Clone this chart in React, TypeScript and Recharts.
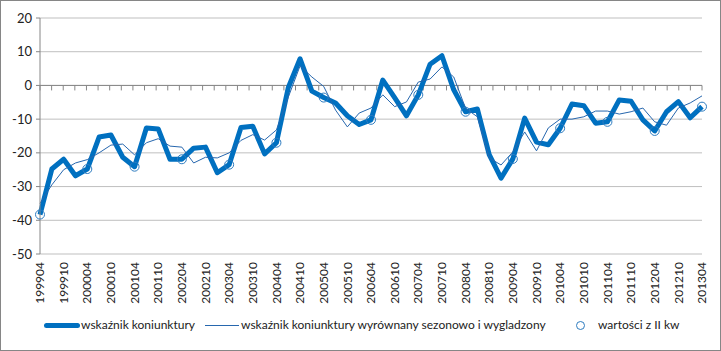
import { LineChart, Line, XAxis, YAxis, CartesianGrid, ReferenceLine } from 'recharts'

const categories = [
  '199904', '199907', '199910', '200001', '200004', '200007', '200010', '200101',
  '200104', '200107', '200110', '200201', '200204', '200207', '200210', '200301',
  '200304', '200307', '200310', '200401', '200404', '200407', '200410', '200501',
  '200504', '200507', '200510', '200601', '200604', '200607', '200610', '200701',
  '200704', '200707', '200710', '200801', '200804', '200807', '200810', '200901',
  '200904', '200907', '200910', '201001', '201004', '201007', '201010', '201101',
  '201104', '201107', '201110', '201201', '201204', '201207', '201210', '201301',
  '201304',
]

// wskaźnik koniunktury
const indexValues = [
  -38.3, -24.8, -21.9, -26.8, -24.8, -15.3, -14.7, -21.3,
  -24.1, -12.6, -12.9, -21.9, -21.9, -18.6, -18.3, -25.9,
  -23.5, -12.5, -12.1, -20.3, -17.0, -0.7, 7.9, -1.7,
  -3.6, -5.2, -9.0, -11.6, -10.2, 1.6, -3.6, -9.0,
  -2.8, 6.3, 8.8, -1.3, -7.8, -7.0, -20.5, -27.5,
  -21.8, -9.7, -16.8, -17.6, -12.7, -5.5, -6.0, -11.2,
  -10.8, -4.3, -4.7, -10.2, -13.5, -7.8, -4.8, -9.6,
  -6.3,
]

// wyrównany sezonowo i wygładzony
const smoothedValues = [
  -35.0, -29.5, -25.0, -23.0, -22.0, -20.0, -17.7, -17.4,
  -20.6, -17.0, -15.8, -18.0, -18.3, -23.0, -21.3, -21.5,
  -20.0, -16.3, -14.6, -16.2, -13.2, -3.5, 5.8, 2.5,
  -0.3, -7.3, -12.3, -8.2, -6.7, -2.8, -6.3, -4.9,
  1.0, 1.9, 5.5, 2.5, -6.8, -9.3, -21.5, -23.6,
  -19.7, -13.8, -19.4, -12.6, -10.0, -10.0, -9.3, -7.6,
  -7.6, -8.5, -7.8, -6.7, -10.8, -11.8, -6.7, -5.2,
  -3.1,
]

// wartości z II kw (every April)
const q2Values = [
  -38.3, -24.8, -24.1, -21.9, -23.5, -17.0, -3.6, -10.2,
  -2.8, -7.8, -21.8, -12.7, -10.8, -13.5, -6.3,
]

const yTicks = [-50, -40, -30, -20, -10, 0, 10, 20]

const data = categories.map((period, i) => ({
  period,
  index: indexValues[i],
  smoothed: smoothedValues[i],
  q2: i % 4 === 0 ? q2Values[i / 4] : null,
}))

const FONT = 'Lato, "Liberation Sans", sans-serif'
const AXIS_GREY = '#868686'

function PeriodTick(props: any) {
  const { x, y, payload } = props
  return (
    <text
      x={x}
      y={y}
      transform={`rotate(-90, ${x}, ${y})`}
      textAnchor="end"
      dy="0.35em"
      fontSize={12}
      fontFamily={FONT}
      fill="#222"
    >
      {payload.value}
    </text>
  )
}

// zero line acts as the category axis, with a tick between every category
function ZeroAxis(props: any) {
  const { x1, y1, x2 } = props
  const step = (x2 - x1) / categories.length
  const marks = []
  for (let k = 0; k <= categories.length; k++) {
    const x = x1 + k * step
    marks.push(<line key={k} x1={x} y1={y1} x2={x} y2={y1 + 5} stroke={AXIS_GREY} />)
  }
  return (
    <g>
      <line x1={x1} y1={y1} x2={x2} y2={y1} stroke={AXIS_GREY} />
      {marks}
    </g>
  )
}

export default function App() {
  return (
    <div style={{ position: 'absolute', left: 0, top: 0, width: 721, height: 351, background: '#fff' }}>
      <LineChart
        width={721}
        height={351}
        data={data}
        margin={{ top: 18, right: 19, left: 0, bottom: 50 }}
      >
        <CartesianGrid vertical={false} stroke="#BFBFBF" />
        <XAxis
          dataKey="period"
          interval={1}
          axisLine={false}
          tickLine={false}
          tickSize={0}
          tickMargin={8}
          height={47}
          tick={<PeriodTick />}
        />
        <YAxis
          domain={[-50, 20]}
          ticks={yTicks}
          width={40}
          axisLine={{ stroke: AXIS_GREY }}
          tickLine={{ stroke: AXIS_GREY }}
          tickSize={4}
          tickMargin={4}
          tick={{ fontSize: 13, fill: '#222', fontFamily: FONT }}
        />
        <ReferenceLine y={0} shape={<ZeroAxis />} />
        <Line
          dataKey="index"
          stroke="#0070C0"
          strokeWidth={5}
          strokeLinejoin="round"
          dot={false}
          isAnimationActive={false}
        />
        <Line
          dataKey="smoothed"
          stroke="#2767AE"
          strokeWidth={1}
          dot={false}
          isAnimationActive={false}
        />
        <Line
          dataKey="q2"
          stroke="none"
          dot={{ r: 4.5, stroke: '#2E7CC0', strokeWidth: 1, fill: 'none' }}
          isAnimationActive={false}
        />
      </LineChart>

      {/* legend */}
      <div style={{ position: 'absolute', left: 0, top: 316, width: 721, height: 20, fontFamily: FONT, fontSize: 12, color: '#222' }}>
        <div style={{ position: 'absolute', left: 44, top: 7, width: 36, height: 5, borderRadius: 3, background: '#0070C0' }} />
        <div style={{ position: 'absolute', left: 81, top: 1 }}>wskaźnik koniunktury</div>
        <div style={{ position: 'absolute', left: 205, top: 9, width: 34, height: 1, background: '#2767AE' }} />
        <div style={{ position: 'absolute', left: 241, top: 1 }}>wskaźnik koniunktury wyrównany sezonowo i wygladzony</div>
        <div style={{ position: 'absolute', left: 576, top: 5, width: 7, height: 7, borderRadius: '50%', border: '1px solid #2E7CC0' }} />
        <div style={{ position: 'absolute', left: 598, top: 1 }}>wartości z II kw</div>
      </div>

      <div style={{ position: 'absolute', left: 0, top: 0, width: 721, height: 351, boxSizing: 'border-box', border: '1px solid #868686', pointerEvents: 'none' }} />
    </div>
  )
}
